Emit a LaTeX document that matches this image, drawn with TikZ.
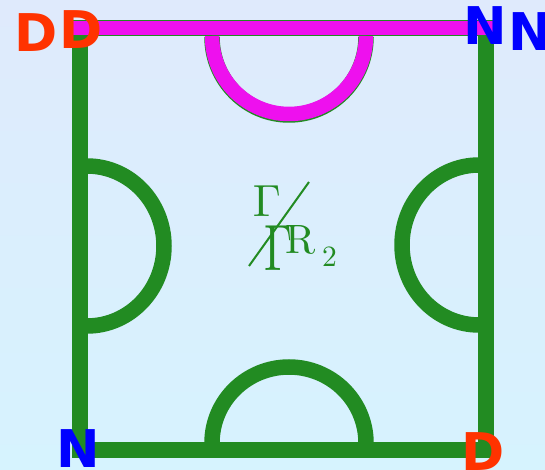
\documentclass[tikz,border=0pt]{standalone}
\usepackage{fontspec}
\setsansfont{DejaVu Sans}
\definecolor{edgegreen}{RGB}{34,139,34}
\definecolor{edgemagenta}{RGB}{238,16,238}
\definecolor{labelred}{RGB}{255,51,0}
\definecolor{labelblue}{RGB}{0,0,255}
\definecolor{bgtop}{RGB}{223,234,252}
\definecolor{bgbottom}{RGB}{214,243,254}

\begin{document}
\begin{tikzpicture}
   [x=1pt,y=1pt,
    wall/.style={draw=edgegreen,line width=15.5pt,line join=miter},
    dirich/.style={draw=edgemagenta,line width=14.5pt},
    bclabel/.style={font=\sffamily\bfseries\fontsize{52}{52}\selectfont,inner sep=0pt},
    sym/.style={text=edgegreen,inner sep=0pt}]
  \shade[top color=bgtop,bottom color=bgbottom] (0,0) rectangle (545,470);
  \useasboundingbox (0,0) rectangle (545,470);

  \coordinate (sw) at (80,20);
  \coordinate (se) at (486,20);
  \coordinate (ne) at (486,442);
  \coordinate (nw) at (80,442);
  \coordinate (s1) at (249,204);
  \coordinate (s2) at (309,288);

  % boundary and the four half discs
  \draw[wall] (sw) -- (se) -- (ne) -- (nw) -- cycle;
  \draw[wall] (212,433) arc[start angle=180,end angle=360,x radius=77,y radius=78];
  \draw[wall] (212,27) arc[start angle=180,end angle=0,x radius=77,y radius=76];
  \draw[wall] (87,304) arc[start angle=90,end angle=-90,x radius=77,y radius=80];
  \draw[wall] (479,305) arc[start angle=90,end angle=270,x radius=77,y radius=80];

  % top side
  \draw[dirich,line cap=rect] (nw) -- (ne);
  \draw[dirich] (212,434) arc[start angle=180,end angle=360,x radius=77,y radius=78];

  \node[bclabel,text=labelred] (d1) at (36,437) {D};
  \node[bclabel,text=labelred] (d2) at (81,440) {D};
  \node[bclabel,text=labelblue] (n1) at (485.5,444) {N};
  \node[bclabel,text=labelblue] (n2) at (530.5,438) {N};
  \node[bclabel,text=labelblue] (n3) at (78,21) {N};
  \node[bclabel,text=labelred] (d3) at (483,18) {D};

  \node[sym] (g1) at (267,268.5) {\scalebox{4.5}{$\Gamma$}};
  \node[sym] (g2) at (279,221.5) {\scalebox{4.5}[6.55]{$\Gamma$}};
  \node[sym] (r) at (301,230.5) {\scalebox{4.1}{$\mathrm{R}$}};
  \node[sym] (two) at (329.5,213.5) {\scalebox{2.95}{$2$}};
  \draw[edgegreen,line width=2pt] (s1) -- (s2);

\end{tikzpicture}
\end{document}
